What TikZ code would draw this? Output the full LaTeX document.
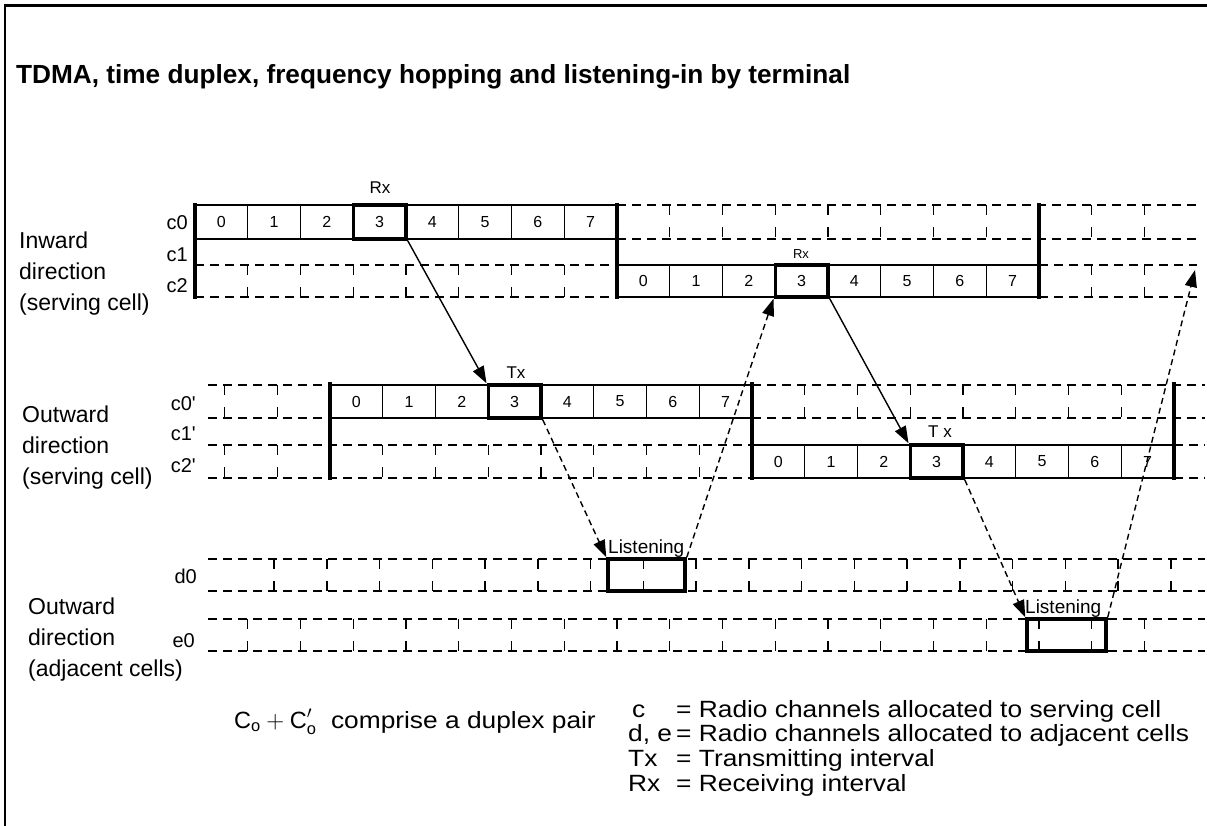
\documentclass[tikz,border=0pt]{standalone}
\usepackage{fontspec}
\setmainfont{Liberation Sans}
\newfontfamily\keyfont{Liberation Sans}[FakeStretch=1.12]
\usetikzlibrary{arrows.meta}

\begin{document}
\begin{tikzpicture}[x=1pt,y=-1pt,
    cell/.style={draw,line width=1.2pt,minimum width=52.75pt,inner sep=0pt,
      font=\fontsize{16}{16}\selectfont},
    hotcell/.style={draw,line width=3.5pt,minimum width=52.75pt,inner sep=0pt},
    gap/.style={line width=1.4pt,dash pattern=on 9pt off 6pt},
    tick/.style={line width=1.4pt,dash pattern=on 10pt off 12pt},
    bar/.style={line width=4.5pt},
    hop/.style={line width=1.4pt,-{Triangle[length=17pt,width=12pt]}},
    hopdash/.style={hop,dash pattern=on 6pt off 4pt},
    chan/.style={anchor=base east,inner sep=0pt,font=\fontsize{20}{20}\selectfont},
    side/.style={anchor=north west,inner sep=0pt,align=left,
      font=\fontsize{23}{31}\selectfont},
    tag/.style={anchor=base,inner sep=0pt,font=\fontsize{17}{17}\selectfont},
    key/.style={anchor=base west,inner sep=0pt,font=\keyfont\fontsize{23.5}{23.5}\selectfont}]

  \useasboundingbox (0,0) rectangle (1207,826);

  % outer frame and title
  \draw[line width=3pt] (4,6) -- (1207,6);
  \draw[line width=2pt] (5,6) -- (5,826);
  \node[anchor=base west,inner sep=0pt,font=\bfseries\fontsize{26.2}{26.2}\selectfont]
    (title) at (16,84) {TDMA, time duplex, frequency hopping and listening-in by terminal};

  \node[side] (inward) at (19,232) {Inward\\direction\\(serving cell)};
  \node[side] (outward) at (22,406) {Outward\\direction\\(serving cell)};
  \node[side] (adjacent) at (28,598) {Outward\\direction\\(adjacent cells)};

  \node[chan] (c0in) at (188,230) {c0};
  \node[chan] (c1in) at (188,262) {c1};
  \node[chan] (c2in) at (188,292) {c2};
  \node[chan] (c0out) at (196,410) {c0\textquotesingle};
  \node[chan] (c1out) at (196,440) {c1\textquotesingle};
  \node[chan] (c2out) at (196,472) {c2\textquotesingle};
  \node[chan] (d0) at (197,583) {d0};
  \node[chan] (e0) at (195,647) {e0};

  % idle slots (dashed)
  \foreach \xa/\xb/\y in {195/617/265, 195/617/297, 617/1197/205, 617/1197/239,
      1039/1197/265, 1039/1197/297, 208/330/385, 208/330/418, 208/752/445,
      208/752/478, 752/1205/385, 752/1205/418, 1174/1205/445, 1174/1205/478,
      208/1205/559, 208/1205/591, 208/1205/619, 208/1205/651}
  {
    \draw[gap] (\xa,\y) -- (\xb,\y);
  }
  \foreach \xo/\y/\h/\ka/\kb in {195/265/32/1/7, 1039/265/32/1/2, 617/205/34/1/10,
      330/385/33/-2/-1, 752/385/33/1/7, 330/445/33/-2/7,
      221.375/559/32/1/18, 195/619/32/1/18}
  {
    \foreach \k in {\ka,...,\kb}
    {
      \draw[tick] ({\xo+52.75*\k},\y) -- ++(0,\h);
    }
  }

  % used frames
  \foreach \i in {0,...,7}
  {
    \node[cell,minimum height=34pt] (in1-\i) at ({221.375+52.75*\i},222) {\i};
    \node[cell,minimum height=32pt] (in2-\i) at ({643.375+52.75*\i},281) {\i};
    \node[cell,minimum height=33pt] (out1-\i) at ({356.375+52.75*\i},401.5) {\i};
    \node[cell,minimum height=33pt] (out2-\i) at ({778.375+52.75*\i},461.5) {\i};
  }

  \foreach \x in {195,617,1039}
  {
    \draw[bar] (\x,203) -- (\x,299);
  }
  \foreach \x in {330,752,1174}
  {
    \draw[bar] (\x,382) -- (\x,480);
  }

  \node[hotcell,minimum height=34pt] (rxA) at (in1-3) {};
  \node[hotcell,minimum height=32pt] (rxB) at (in2-3) {};
  \node[hotcell,minimum height=33pt] (txA) at (out1-3) {};
  \node[hotcell,minimum height=33pt] (txB) at (out2-3) {};
  \node[hotcell,minimum width=77pt,minimum height=32pt] (lisD) at (646.5,575) {};
  \node[hotcell,minimum width=79pt,minimum height=32pt] (lisE) at (1066.5,635) {};

  \node[tag] (rxAtag) at (380,194) {Rx};
  \node[tag,font=\fontsize{13}{13}\selectfont] (rxBtag) at (801,259) {Rx};
  \node[tag] (txAtag) at (516,378) {Tx};
  \node[tag] (txBtag) at (940,437) {T x};
  \node[tag,anchor=base west,font=\fontsize{19}{19}\selectfont] (lisDtag) at (608,553) {Listening};
  \node[tag,anchor=base west,font=\fontsize{19}{19}\selectfont] (lisEtag) at (1025,613) {Listening};

  % hops
  \coordinate (next) at (1195,270);
  \draw[hop] (rxA.south east) -- (txA.north west);
  \draw[hopdash] (txA.south east) -- (lisD.north west);
  \draw[hopdash] (lisD.north east) -- (rxB.south west);
  \draw[hop] (rxB.south east) -- (txB.north west);
  \draw[hopdash] (txB.south east) -- (lisE.north west);
  \draw[hopdash] (lisE.north east) -- (next);

  % legend
  \node[key] (pair) at (234,728)
    {$\mathrm{C}_{\mathrm{o}}+\mathrm{C}^{\prime}_{\mathrm{o}}$\ \ comprise a duplex pair};
  \node[key] (kc) at (632,717) {c};
  \node[key] (kde) at (628,741) {d, e};
  \node[key] (ktx) at (628,766) {Tx};
  \node[key] (krx) at (628,791) {Rx};
  \node[key] (vc) at (676,717) {= Radio channels allocated to serving cell};
  \node[key] (vde) at (676,741) {= Radio channels allocated to adjacent cells};
  \node[key] (vtx) at (676,766) {= Transmitting interval};
  \node[key] (vrx) at (676,791) {= Receiving interval};
\end{tikzpicture}
\end{document}
